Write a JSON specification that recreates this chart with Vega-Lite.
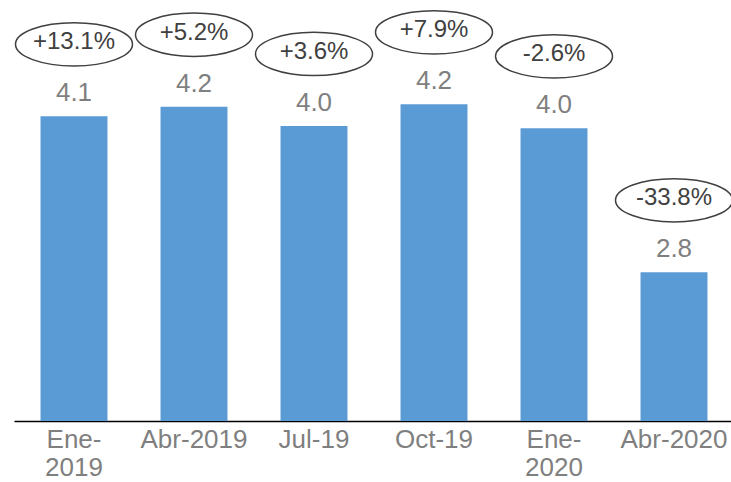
{
  "$schema": "https://vega.github.io/schema/vega-lite/v6.json",
  "width": 720,
  "height": 421,
  "autosize": {"type": "none"},
  "padding": {"left": 14, "top": 0, "right": 0, "bottom": 61},
  "background": "white",
  "config": {
    "view": {"stroke": null},
    "font": "Liberation Sans"
  },
  "data": {
    "values": [
      {"mes": "Ene-2019", "valor": 4.10, "var": "+13.1%"},
      {"mes": "Abr-2019", "valor": 4.18, "var": "+5.2%"},
      {"mes": "Jul-19", "valor": 4.02, "var": "+3.6%"},
      {"mes": "Oct-19", "valor": 4.20, "var": "+7.9%"},
      {"mes": "Ene-2020", "valor": 4.00, "var": "-2.6%"},
      {"mes": "Abr-2020", "valor": 2.80, "var": "-33.8%"}
    ]
  },
  "encoding": {
    "x": {
      "field": "mes",
      "type": "nominal",
      "sort": null,
      "scale": {"paddingInner": 0.442, "paddingOuter": 0.221},
      "axis": {
        "title": null,
        "ticks": false,
        "domainColor": "#000000",
        "domainWidth": 1.4,
        "labelAngle": 0,
        "labelColor": "#7f7f7f",
        "labelFontSize": 26,
        "labelFont": "Liberation Sans",
        "labelPadding": 5,
        "labelLineHeight": 28,
        "labelOverlap": false,
        "labelExpr": "substring(datum.label,0,3)=='Ene' ? ['Ene-', substring(datum.label,4)] : datum.label"
      }
    },
    "y": {
      "field": "valor",
      "type": "quantitative",
      "scale": {"domain": [1.56, 5.07], "zero": false, "nice": false, "clamp": true},
      "axis": null
    }
  },
  "layer": [
    {"mark": {"type": "bar", "color": "#5b9bd5", "clip": true}},
    {
      "mark": {"type": "text", "yOffset": -23, "baseline": "middle", "fontSize": 26, "color": "#7f7f7f"},
      "encoding": {"text": {"field": "valor", "type": "quantitative", "format": ".1f"}}
    },
    {
      "mark": {
        "type": "point",
        "shape": "M -1 0 A 1 0.37 0 1 1 1 0 A 1 0.37 0 1 1 -1 0 Z",
        "size": 13689,
        "filled": false,
        "stroke": "#404040",
        "strokeWidth": 1.5,
        "opacity": 1,
        "yOffset": -72
      }
    },
    {
      "mark": {"type": "text", "yOffset": -74, "baseline": "middle", "fontSize": 24, "color": "#404040"},
      "encoding": {"text": {"field": "var", "type": "nominal"}}
    }
  ]
}
